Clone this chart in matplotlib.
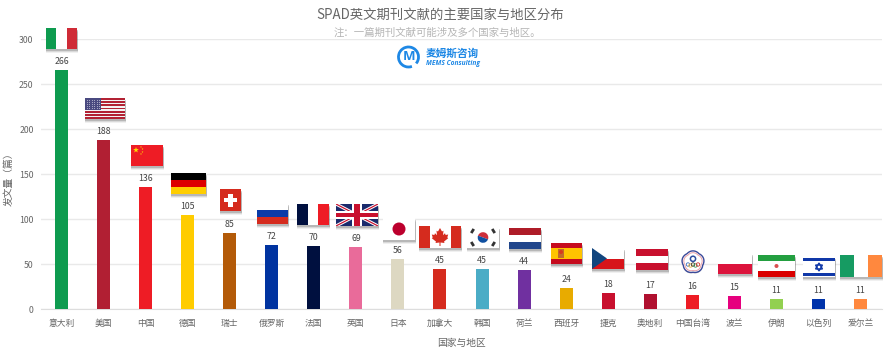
import numpy as np
import matplotlib
matplotlib.use("Agg")
import matplotlib.pyplot as plt
from matplotlib.patches import Rectangle, Circle, Polygon, Wedge, Arc

plt.rcParams['font.family'] = ['Noto Sans CJK SC', 'DejaVu Sans']

countries = ['意大利', '美国', '中国', '德国', '瑞士', '俄罗斯', '法国', '英国', '日本', '加拿大',
             '韩国', '荷兰', '西班牙', '捷克', '奥地利', '中国台湾', '波兰', '伊朗', '以色列', '爱尔兰']
papers = [266, 188, 136, 105, 85, 72, 70, 69, 56, 45, 45, 44, 24, 18, 17, 16, 15, 11, 11, 11]
bar_colors = ['#0E9B4F', '#B11F33', '#EE1C25', '#FFCC00', '#B35A08', '#0033A0', '#00103F', '#E96B9A',
              '#DDD8C2', '#D52B1E', '#4BACC6', '#7030A0', '#E8AB00', '#C8102E', '#B0102F', '#ED1C24',
              '#E6007E', '#92D050', '#0033AA', '#FF883E']
y_ticks = [0, 50, 100, 150, 200, 250, 300]

W, H = 894, 354
fig = plt.figure(figsize=(W / 100, H / 100), dpi=100, facecolor='white')
ax = fig.add_axes([40.5 / W, 1 - 309.3 / H, 841 / W, 270 / H])
x = np.arange(len(papers))
ax.bar(x, papers, width=0.31, color=bar_colors, zorder=3)
ax.set_xlim(-0.5, len(papers) - 0.5)
ax.set_ylim(0, 300)
ax.set_yticks(y_ticks)
ax.set_xticks(x, countries)
ax.grid(axis='y', color='#E9E9E9', lw=1)
ax.set_axisbelow(True)
for s in ['top', 'right', 'left']:
    ax.spines[s].set_visible(False)
ax.spines['bottom'].set_color('#DDDDDD')
ax.tick_params(length=0, labelsize=6.3, labelcolor='#666666')
ax.tick_params(axis='y', pad=5)
ax.tick_params(axis='x', pad=7)
for xi, v in zip(x, papers):
    ax.annotate(str(v), (xi, v), xytext=(0, 4), textcoords='offset pixels', ha='center', va='bottom',
                fontsize=6.3, color='#444444', zorder=5)

ov = fig.add_axes([0, 0, 1, 1], facecolor='none')
ov.set_xlim(0, W)
ov.set_ylim(H, 0)
ov.axis('off')


def rect(a, b, c, d, col, z=6):
    ov.add_patch(Rectangle((a, b), c - a, d - b, fc=col, ec='none', zorder=z))


def shadow(a, b, c, d):
    for i, al in zip([3.5, 2.5, 1.5], [0.07, 0.12, 0.2]):
        ov.add_patch(Rectangle((a - 0.5 + i * 0.2, b + i), c - a + 1, d - b, fc='#333333', alpha=al, ec='none', zorder=5))


def hstripes(box, cols, fr=None):
    a, b, c, d = box
    shadow(a, b, c, d)
    fr = fr or [1 / len(cols)] * len(cols)
    y = b
    for col, f in zip(cols, fr):
        rect(a, y, c, y + (d - b) * f, col)
        y += (d - b) * f


def vstripes(box, cols, fr=None):
    a, b, c, d = box
    shadow(a, b, c, d)
    fr = fr or [1 / len(cols)] * len(cols)
    xx = a
    for col, f in zip(cols, fr):
        rect(xx, b, xx + (c - a) * f, d, col)
        xx += (c - a) * f


def star(cx, cy, r, col, z=7, n=5):
    ang = np.arange(2 * n) * np.pi / n - np.pi / 2
    rr = np.where(np.arange(2 * n) % 2 == 0, r, r * 0.4)
    ov.add_patch(Polygon(np.c_[cx + rr * np.cos(ang), cy + rr * np.sin(ang)], fc=col, ec='none', zorder=z))


vstripes((46, 28, 77, 49), ['#0E9B4F', '#FFFFFF', '#CF2B37'])

# USA
a, b, c, d = 85, 98, 125, 119
hstripes((a, b, c, d), ['#B22234', '#F4F4F4'] * 6 + ['#B22234'])
rect(a, b, a + 16, b + 11.5, '#4A4A80', 7)
xs, ys = np.meshgrid(np.arange(a + 1.5, a + 16, 2.6), np.arange(b + 1.5, b + 11, 2.2))
ov.scatter(xs, ys, s=0.4, c='#B8B8D0', lw=0, zorder=8)

# China
a, b, c, d = 131, 145, 163, 166
hstripes((a, b, c, d), ['#EE1C25'])
star(a + 5, b + 5, 3, '#FFDE00')
for dx, dy in [(10, 2), (11.5, 4), (11.5, 7), (10, 9)]:
    star(a + dx, b + dy, 1, '#FFDE00')

hstripes((171, 173, 206, 194), ['#000000', '#DD0000', '#FFCE00'])

# Switzerland
a, b, c, d = 220, 189, 241, 211
hstripes((a, b, c, d), ['#D52B1E'])
cx, cy = (a + c) / 2, (b + d) / 2
rect(cx - 6.5, cy - 2.2, cx + 6.5, cy + 2.2, 'white', 7)
rect(cx - 2.2, cy - 6.5, cx + 2.2, cy + 6.5, 'white', 7)

hstripes((257, 203, 288, 224), ['#FFFFFF', '#0A3BA8', '#D52B1E'])
vstripes((297, 204, 329, 225), ['#00103F', '#FFFFFF', '#EE1C25'])

# UK
a, b, c, d = 336, 204, 378, 226
hstripes((a, b, c, d), ['#1A2A6C'])
cp = Rectangle((a, b), c - a, d - b, transform=ov.transData)
for pts, col, lw in [(((a, c), (b, d)), 'white', 3.2), (((a, c), (d, b)), 'white', 3.2),
                     (((a, c), (b, d)), '#C8102E', 1.2), (((a, c), (d, b)), '#C8102E', 1.2)]:
    ln, = ov.plot(pts[0], pts[1], color=col, lw=lw * 0.72, zorder=7, solid_capstyle='butt')
    ln.set_clip_path(cp)
cx, cy = (a + c) / 2, (b + d) / 2
rect(a, cy - 4, c, cy + 4, 'white', 8)
rect(cx - 5, b, cx + 5, d, 'white', 8)
rect(a, cy - 2.3, c, cy + 2.3, '#C8102E', 9)
rect(cx - 3, b, cx + 3, d, '#C8102E', 9)

# Japan
a, b, c, d = 383, 218, 415, 240
hstripes((a, b, c, d), ['#FFFFFF'])
ov.add_patch(Circle(((a + c) / 2, (b + d) / 2), 6.5, fc='#BC002D', ec='none', zorder=7))

# Canada
a, b, c, d = 419, 226, 461, 248
vstripes((a, b, c, d), ['#D52B1E', '#FFFFFF', '#D52B1E'], [0.25, 0.5, 0.25])
cx, cy = (a + c) / 2, (b + d) / 2
leaf = np.array([[0, -9], [2, -5.5], [3.5, -6.3], [3, -1.8], [5, -3.8], [5.6, -2], [8.2, -2.5], [7.3, 0.4],
                 [8.2, 1.2], [4, 4.6], [4.5, 6], [0.5, 5.5], [0.5, 9], [-0.5, 9], [-0.5, 5.5], [-4.5, 6],
                 [-4, 4.6], [-8.2, 1.2], [-7.3, 0.4], [-8.2, -2.5], [-5.6, -2], [-5, -3.8], [-3, -1.8],
                 [-3.5, -6.3], [-2, -5.5]])
ov.add_patch(Polygon(leaf + [cx, cy], fc='#D52B1E', ec='none', zorder=7))

# Korea
a, b, c, d = 467, 227, 499, 248
hstripes((a, b, c, d), ['#FFFFFF'])
cx, cy = (a + c) / 2, (b + d) / 2
ov.add_patch(Wedge((cx, cy), 5.3, 200, 20, fc='#CD2E3A', ec='none', zorder=7))
ov.add_patch(Wedge((cx, cy), 5.3, 20, 200, fc='#0F4FA0', ec='none', zorder=7))
for sx, sy in [(-1, -1), (1, -1), (-1, 1), (1, 1)]:
    ang = np.arctan2(sy * 6.5, sx * 10.5)
    px, py = cx + sx * 10.5, cy + sy * 6.5
    ov.plot([px - 2.4 * np.sin(ang), px + 2.4 * np.sin(ang)],
            [py + 2.4 * np.cos(ang), py - 2.4 * np.cos(ang)], color='#333333', lw=2.0, zorder=7,
            solid_capstyle='butt')

hstripes((509, 228, 541, 249), ['#AE1C28', '#FFFFFF', '#21468B'])

# Spain
a, b, c, d = 551, 243, 582, 264
hstripes((a, b, c, d), ['#C60B1E', '#FFC400', '#C60B1E'], [0.25, 0.5, 0.25])
ov.add_patch(Rectangle((a + 7, b + 6), 6, 9, fc='#C26A2A', ec='none', zorder=7))
ov.add_patch(Circle((a + 10, b + 9), 2, fc='#D9391E', ec='none', zorder=8))

# Czech
a, b, c, d = 592, 248, 624, 269
hstripes((a, b, c, d), ['#FFFFFF', '#D7141A'])
ov.add_patch(Polygon([(a, b), (a + 15, (b + d) / 2), (a, d)], fc='#11457E', ec='none', zorder=7))

hstripes((636, 249, 668, 270), ['#C8102E', '#FFFFFF', '#C8102E'])

# Chinese Taipei emblem
cx, cy = 693, 262
th = np.linspace(0, 2 * np.pi, 200)
rr = 10.2 + 0.9 * np.abs(np.cos(2.5 * (th + np.pi / 2)))
ov.add_patch(Polygon(np.c_[cx + rr * np.cos(th), cy + rr * np.sin(th) + 1], fc='#333333', alpha=0.3, ec='none', zorder=5))
ov.add_patch(Polygon(np.c_[cx + rr * np.cos(th), cy + rr * np.sin(th)], fc='white', ec='#3A4A9A', lw=1, zorder=6))
rr2 = 8.5 + 0.8 * np.abs(np.cos(2.5 * (th + np.pi / 2)))
ov.add_patch(Polygon(np.c_[cx + rr2 * np.cos(th), cy + rr2 * np.sin(th)], fc='white', ec='#E8A0A8', lw=0.7, zorder=7))
ov.add_patch(Circle((cx, cy - 3.2), 2.6, fc='white', ec='#2E4FA0', lw=1.1, zorder=8))
for dx, col in zip([-5, -2.5, 0, 2.5, 5], ['#3A6FC0', '#E8B030', '#333333', '#3A9A50', '#D03030']):
    ov.add_patch(Circle((cx + dx, cy + 2.5 + (abs(dx) % 5 > 0) * 1), 1.7, fc='none', ec=col, lw=0.6, zorder=8))

hstripes((718, 253, 752, 274), ['#FFFFFF', '#DC143C'])

# Iran
a, b, c, d = 758, 255, 795, 277
hstripes((a, b, c, d), ['#239F40', '#FFFFFF', '#DA0000'], [0.28, 0.44, 0.28])
ov.add_patch(Circle(((a + c) / 2, (b + d) / 2), 2, fc='#DA5050', ec='none', zorder=7))

# Israel
a, b, c, d = 803, 257, 835, 277
hstripes((a, b, c, d), ['#FFFFFF', '#1038A8', '#FFFFFF', '#1038A8', '#FFFFFF'], [0.06, 0.14, 0.6, 0.14, 0.06])
cx, cy = (a + c) / 2, (b + d) / 2
for s in (1, -1):
    ang = np.array([-90, 30, 150]) * np.pi / 180
    ov.add_patch(Polygon(np.c_[cx + 4 * np.cos(ang), cy + s * 4 * np.sin(ang)], fc='none', ec='#1038A8', lw=1, zorder=7))

vstripes((840, 255, 882, 277), ['#169B62', '#FFFFFF', '#FF883E'])

# Logo
blue = '#1E88E5'
ov.add_patch(Arc((408.5, 57), 20, 20, theta1=70, theta2=400, ec=blue, lw=2, zorder=7))
ov.text(409, 57, 'M', color=blue, fontsize=9.5, fontweight='bold', ha='center', va='center', zorder=8,
        family=['Open Sans'])
ov.text(426, 53.5, '麦姆斯咨询', color=blue, fontsize=7.7, fontweight='bold', ha='left', va='center',
        family=['Noto Sans CJK SC'])
ov.text(425.5, 63.5, 'MEMS Consulting', color=blue, fontsize=4.8, fontweight='bold', style='italic',
        ha='left', va='center', family=['Open Sans'])

# Titles
ov.text(440, 15, 'SPAD英文期刊文献的主要国家与地区分布', fontsize=9.6, color='#666666', ha='center', va='center')
ov.text(437.5, 33, '注\uff1a一篇期刊文献可能涉及多个国家与地区。', fontsize=7.5, color='#B5B5B5', ha='center', va='center')
ov.text(461, 342.5, '国家与地区', fontsize=7, color='#666666', ha='center', va='center')
ov.text(8.5, 176.5, '发文量\uff08篇\uff09', fontsize=7, color='#666666', ha='center', va='center', rotation=90)

fig.savefig('out.png', dpi=100)
